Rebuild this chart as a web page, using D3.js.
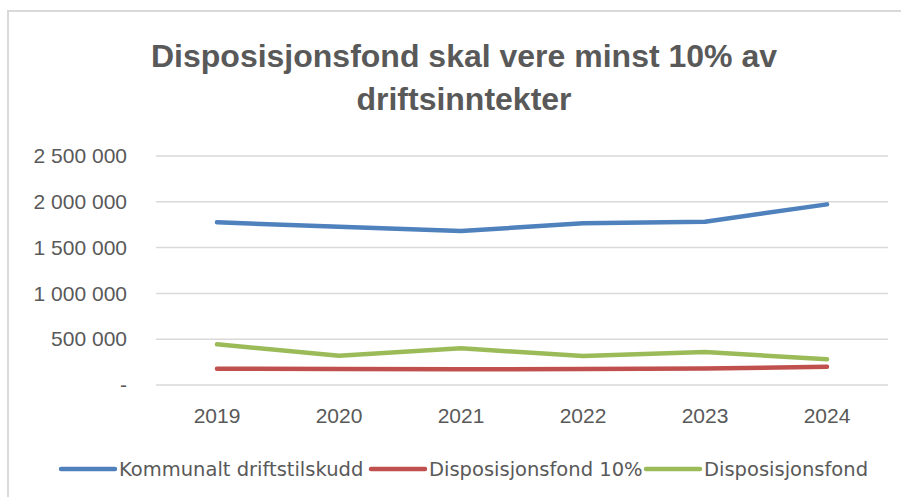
<!DOCTYPE html>
<html><head><meta charset="utf-8">
<script src="https://cdn.jsdelivr.net/npm/d3@7"></script>
<style>body{margin:0;background:#fff}svg{display:block}</style>
</head><body>
<svg id="c" width="901" height="497"></svg>
<script>
const years = ["2019","2020","2021","2022","2023","2024"];
const kommunalt = [1776000,1728000,1681000,1765000,1783000,1972000];
const fond10 = [178000,174000,171000,176000,180000,200000];
const fond = [444000,320000,400000,317000,360000,280000];
const yTicks = [0,500000,1000000,1500000,2000000,2500000];
const seriesNames = ["Kommunalt driftstilskudd","Disposisjonsfond 10%","Disposisjonsfond"];
const colors = ["#4f81bd","#c0504d","#9bbb59"];
const titleLines = ["Disposisjonsfond skal vere minst 10% av","driftsinntekter"];

const svg = d3.select("#c");
svg.append("rect").attr("x",8).attr("y",11).attr("width",920).attr("height",520)
  .attr("fill","#fff").attr("stroke","#d9d9d9").attr("stroke-width",2);

const L=156, R=888, T=156, B=385;
const x = d3.scaleBand().domain(years).range([L,R]);
const y = d3.scaleLinear().domain([0,2500000]).range([B,T]);

const fmt = v => v===0 ? "-" : d3.format(",")(v).replace(/,/g," ");

// gridlines
svg.append("g").selectAll("line").data(yTicks).join("line")
  .attr("x1",L).attr("x2",R).attr("y1",d=>y(d)).attr("y2",d=>y(d))
  .attr("stroke","#d9d9d9").attr("stroke-width",1.5);

const yAxis = svg.append("g").attr("transform",`translate(${L},0)`)
  .call(d3.axisLeft(y).tickValues(yTicks).tickFormat(fmt).tickSize(0).tickPadding(29));
yAxis.select(".domain").remove();
yAxis.selectAll("text").attr("font-family","Liberation Sans, Arial, sans-serif")
  .attr("font-size",21).attr("fill","#595959");

const xAxis = svg.append("g").attr("transform",`translate(0,${B})`)
  .call(d3.axisBottom(x).tickSize(0).tickPadding(23));
xAxis.select(".domain").remove();
xAxis.selectAll("text").attr("font-family","Liberation Sans, Arial, sans-serif")
  .attr("font-size",21).attr("fill","#595959");

const data = [kommunalt, fond10, fond];
const line = d3.line().x((d,i)=>x(years[i])+x.bandwidth()/2).y(d=>y(d));
svg.append("g").selectAll("path").data(data).join("path")
  .attr("d",line).attr("fill","none").attr("stroke",(d,i)=>colors[i])
  .attr("stroke-width",4.5).attr("stroke-linecap","round").attr("stroke-linejoin","round");

// title
svg.append("g").selectAll("text").data(titleLines).join("text")
  .attr("x",464).attr("y",(d,i)=>67+i*43).attr("text-anchor","middle")
  .attr("font-family","Liberation Sans, Arial, sans-serif").attr("font-weight","bold")
  .attr("font-size",32).attr("fill","#595959").text(d=>d);

// legend
const legX = [60,370,645];
const lg = svg.append("g").selectAll("g").data(seriesNames).join("g")
  .attr("transform",(d,i)=>`translate(${legX[i]},469)`);
lg.append("line").attr("x1",1).attr("x2",55).attr("y1",0).attr("y2",0)
  .attr("stroke",(d,i)=>colors[i]).attr("stroke-width",4.5).attr("stroke-linecap","round");
lg.append("text").attr("x",59).attr("y",7).attr("font-family","DejaVu Sans, sans-serif")
  .attr("font-size",19.5).attr("fill","#595959").text(d=>d);
</script>
</body></html>
